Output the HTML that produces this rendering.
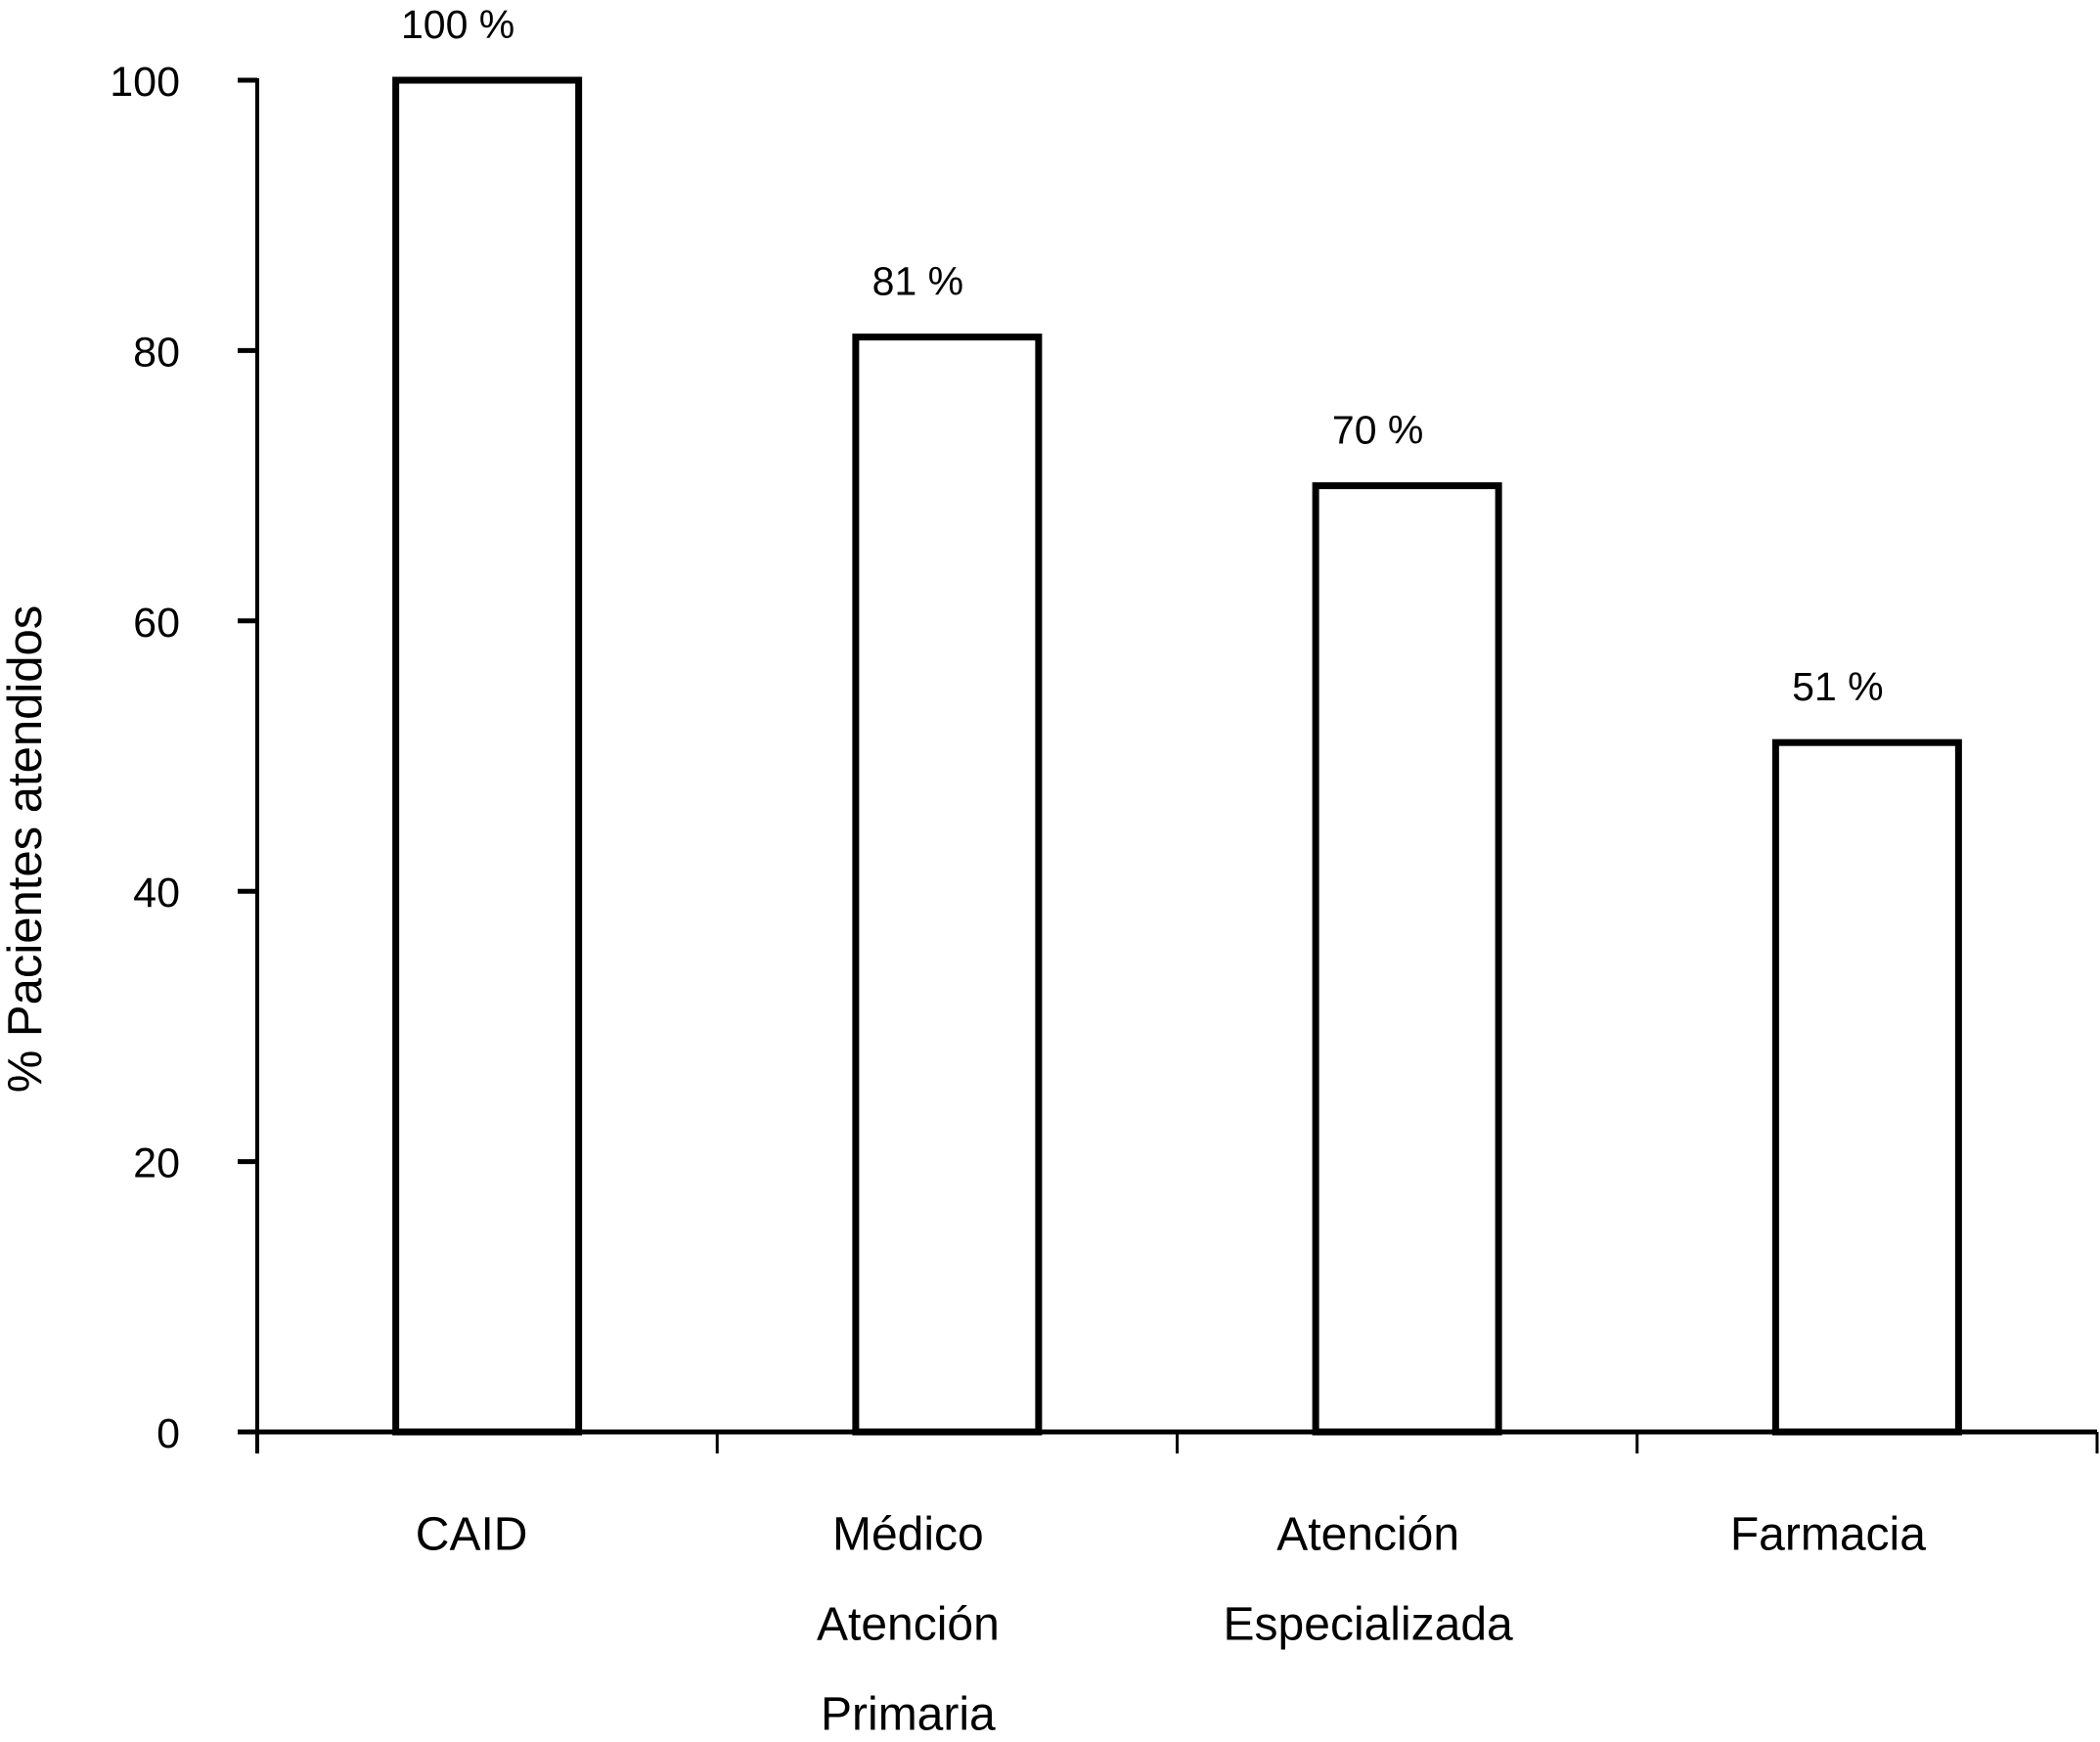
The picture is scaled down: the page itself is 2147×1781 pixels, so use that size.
<!DOCTYPE html>
<html><head><meta charset="utf-8"><style>
html,body{margin:0;padding:0;background:#fff;}
svg{display:block;font-family:"Liberation Sans",Arial,sans-serif;}
</style></head><body>
<svg id="chart" width="2147" height="1781" viewBox="0 0 2147 1781" xmlns="http://www.w3.org/2000/svg">
<text x="0" y="0" transform="translate(26,868) rotate(-90)" text-anchor="middle" dominant-baseline="central" font-size="49">% Pacientes atendidos</text>
</svg>
<script>
const categories=[["CAID"],["Médico","Atención","Primaria"],["Atención","Especializada"],["Farmacia"]];
const values=[100,81,70,51];
const valueLabels=["100 %","81 %","70 %","51 %"];
const yTicks=[0,20,40,60,80,100];
const NS="http://www.w3.org/2000/svg";
const svg=document.getElementById('chart');
const X0=263,X1=2144,Y0=1464,Y100=82;
const band=(X1-X0)/categories.length;
const y=v=>Y0+(Y100-Y0)*v/100;
const xc=i=>X0+band*(i+0.5);
function mk(t,a){const e=document.createElementNS(NS,t);for(const k in a)e.setAttribute(k,a[k]);svg.appendChild(e);return e;}
values.forEach((v,i)=>{
 const bw=187;
 const r=mk('rect',{x:xc(i)-bw/2,y:y(v),width:bw,height:Y0-y(v),fill:'#fff',stroke:'#000','stroke-width':7});
 
 
 const t=mk('text',{x:xc(i)-30,y:y(v)-57,'text-anchor':'middle','dominant-baseline':'central','font-size':41});
 t.textContent=valueLabels[i];
 
 
});
const ya=mk('line',{x1:X0,y1:Y100-2,x2:X0,y2:Y0+22,stroke:'#000','stroke-width':4});


const xa=mk('line',{x1:X0-20,y1:Y0,x2:X1,y2:Y0,stroke:'#000','stroke-width':5});


yTicks.forEach(v=>{
 const l=mk('line',{x1:X0-20,y1:y(v),x2:X0,y2:y(v),stroke:'#000','stroke-width':5});
 
 
 const t=mk('text',{x:184,y:y(v)+2,'text-anchor':'end','dominant-baseline':'central','font-size':43});
 t.textContent=v;
 
 
});
for(let i=0;i<=categories.length;i++){
 const l=mk('line',{x1:X0+band*i,y1:Y0,x2:X0+band*i,y2:Y0+22,stroke:'#000','stroke-width':3});
 
 
}
categories.forEach((lines,i)=>{
 lines.forEach((s,j)=>{
  const t=mk('text',{x:xc(i)-(i===0?16:40),y:1569+j*92,'text-anchor':'middle','dominant-baseline':'central','font-size':48});
  t.textContent=s;
  
  
 });
});
</script>
</body></html>
